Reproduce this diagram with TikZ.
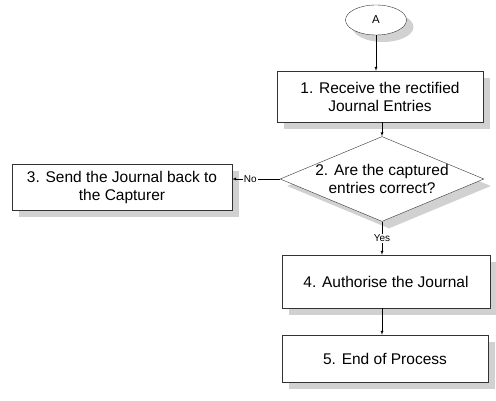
\documentclass[tikz,border=0pt]{standalone}
\usepackage{fontspec}
\setmainfont{Liberation Sans}
\usepackage{tikz}
\usetikzlibrary{arrows}
\usetikzlibrary{positioning}
\usetikzlibrary{shapes.geometric}
\usetikzlibrary{shadows}

\begin{document}
\begin{tikzpicture}[x=1pt, y=-1pt,
        every node/.append style={font=\fontsize{15.5}{18}\selectfont, align=center},
        box/.style={draw=black!80, fill=white, drop shadow={fill=black!18, opacity=1, shadow xshift=7pt, shadow yshift=-7pt}},
        lbl/.style={fill=white, inner sep=1pt, font=\fontsize{10}{12}\selectfont}
    ]
        \useasboundingbox (0,0) rectangle (496,401);

        \node (A) [box, ellipse, minimum width=61pt, minimum height=30pt, inner sep=0pt, font=\fontsize{11.5}{13}\selectfont] at (376,20) {A};
        \node (1) [box, minimum width=206pt, minimum height=51pt] at (380,96.5) {1. Receive the rectified\\Journal Entries};
        \node (2) [box, diamond, shape aspect=2.4, minimum width=203pt, minimum height=82pt, inner sep=0pt] at (382,179) {2. Are the captured\\entries correct?};
        \node (3) [box, minimum width=220pt, minimum height=46pt] at (122,187) {3. Send the Journal back to\\the Capturer};
        \node (4) [box, minimum width=208pt, minimum height=53pt] at (386,281.5) {4. Authorise the Journal};
        \node (5) [box, minimum width=206pt, minimum height=47pt] at (385,358.5) {5. End of Process};

        \draw [-latex] (A.south) -- (A.south |- 1.north);
        \draw [-latex] (2.north |- 1.south) -- (2.north);
        \draw [-latex] (2.south) -- node[lbl] {Yes} (2.south |- 4.north);
        \draw [-latex] (2.south |- 4.south) -- (2.south |- 5.north);
        \draw [-latex] (2.west) -- node[lbl, pos=.62] {No} (2.west -| 3.east);
    \end{tikzpicture}
\end{document}
